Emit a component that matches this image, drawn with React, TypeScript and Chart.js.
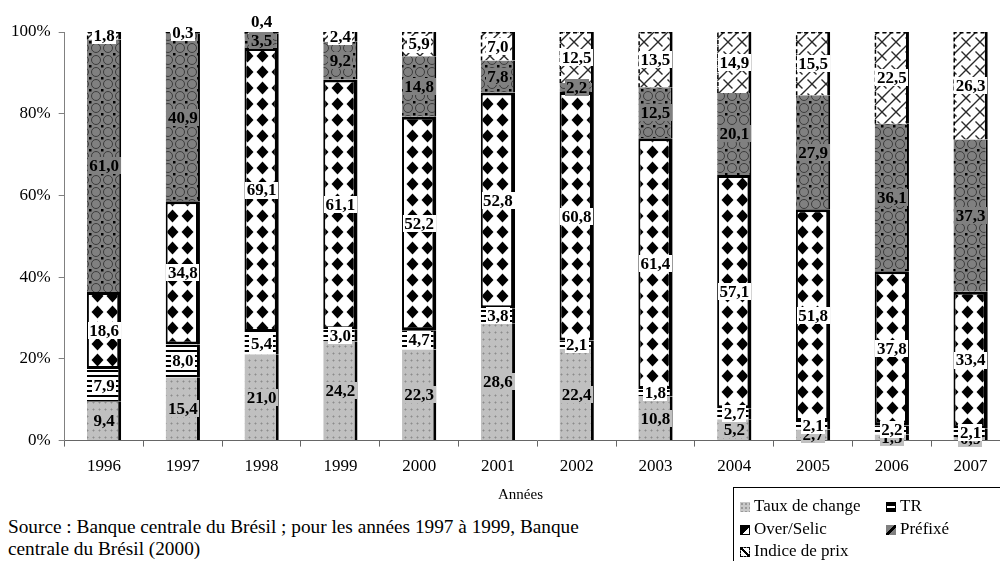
import React, { useEffect, useRef } from 'react';
import { Chart, registerables } from 'chart.js';
Chart.register(...registerables);

const years = ['1996', '1997', '1998', '1999', '2000', '2001', '2002', '2003', '2004', '2005', '2006', '2007'];
const tauxDeChange = [9.4, 15.4, 21.0, 24.2, 22.3, 28.6, 22.4, 10.8, 5.2, 2.7, 1.5, 0.9];
const tr = [7.9, 8.0, 5.4, 3.0, 4.7, 3.8, 2.1, 1.8, 2.7, 2.1, 2.2, 2.1];
const overSelic = [18.6, 34.8, 69.1, 61.1, 52.2, 52.8, 60.8, 61.4, 57.1, 51.8, 37.8, 33.4];
const prefixe = [61.0, 40.9, 3.5, 9.2, 14.8, 7.8, 2.2, 12.5, 20.1, 27.9, 36.1, 37.3];
const indicePrix = [1.8, 0.3, 0.4, 2.4, 5.9, 7.0, 12.5, 13.5, 14.9, 15.5, 22.5, 26.3];
const seriesNames = ['Taux de change', 'TR', 'Over/Selic', 'Préfixé', 'Indice de prix'];
const yTickValues = [0, 20, 40, 60, 80, 100];

const FONT = '"Liberation Serif", "Times New Roman", Times, serif';

const rawSeries = [tauxDeChange, tr, overSelic, prefixe, indicePrix];
const totals = years.map((_, i) => rawSeries.reduce((s, arr) => s + arr[i], 0));
const normalized = rawSeries.map((arr) => arr.map((v, i) => (v / totals[i]) * 100));
const labelBg = ['#c0c0c0', '#ffffff', '#ffffff', '#808080', '#ffffff'];

function makePatterns(ctx: CanvasRenderingContext2D) {
  const mk = (w: number, h: number, draw: (g: CanvasRenderingContext2D) => void) => {
    const c = document.createElement('canvas');
    c.width = w;
    c.height = h;
    const g = c.getContext('2d')!;
    draw(g);
    return ctx.createPattern(c, 'repeat')!;
  };
  const pTaux = mk(6, 7, (g) => {
    g.fillStyle = '#c0c0c0';
    g.fillRect(0, 0, 6, 7);
    g.fillStyle = '#a6a6a6';
    g.fillRect(2, 3, 3, 1);
    g.fillRect(3, 2, 1, 3);
    g.fillStyle = '#8c8c8c';
    g.fillRect(3, 3, 1, 1);
  });
  const pTR = mk(4, 5, (g) => {
    g.fillStyle = '#ffffff';
    g.fillRect(0, 0, 4, 5);
    g.fillStyle = '#000000';
    g.fillRect(0, 0, 4, 2);
  });
  const pOver = mk(15, 16, (g) => {
    g.fillStyle = '#ffffff';
    g.fillRect(0, 0, 15, 16);
    g.fillStyle = '#000000';
    g.beginPath();
    g.moveTo(7.5, 1.5);
    g.lineTo(13.5, 8);
    g.lineTo(7.5, 14.5);
    g.lineTo(1.5, 8);
    g.closePath();
    g.fill();
  });
  const pPref = mk(12, 12, (g) => {
    g.fillStyle = '#808080';
    g.fillRect(0, 0, 12, 12);
    g.strokeStyle = '#3c3c3c';
    g.lineWidth = 1;
    for (const [cx, cy] of [[0, 0], [12, 0], [0, 12], [12, 12]]) {
      g.beginPath();
      g.arc(cx, cy, 4.5, 0, Math.PI * 2);
      g.stroke();
    }
    g.fillStyle = '#000000';
    g.fillRect(5, 5, 2.5, 2.5);
  });
  const pInd = mk(14, 14, (g) => {
    g.fillStyle = '#ffffff';
    g.fillRect(0, 0, 14, 14);
    g.strokeStyle = '#2a2a2a';
    g.lineWidth = 1.4;
    g.beginPath();
    g.moveTo(0, 14);
    g.lineTo(14, 0);
    g.moveTo(0, 0);
    g.lineTo(4.5, 4.5);
    g.moveTo(9.5, 9.5);
    g.lineTo(14, 14);
    g.stroke();
  });
  return [pTaux, pTR, pOver, pPref, pInd];
}

const decorPlugin = {
  id: 'decor',
  afterDatasetsDraw(chart: any) {
    const c = chart.ctx as CanvasRenderingContext2D;
    c.save();
    // dashed outline for price-index segments
    const meta = chart.getDatasetMeta(4);
    c.strokeStyle = '#000';
    c.lineWidth = 1.5;
    c.setLineDash([4, 3]);
    meta.data.forEach((el: any) => {
      const w = el.width;
      const left = el.x - w / 2;
      c.beginPath();
      c.moveTo(left + 0.75, el.base);
      c.lineTo(left + 0.75, el.y + 0.75);
      c.lineTo(left + w - 2, el.y + 0.75);
      c.stroke();
    });
    c.setLineDash([]);

    // value labels
    c.font = `bold 17px ${FONT}`;
    c.textAlign = 'center';
    c.textBaseline = 'middle';
    const boxes: Record<number, { top: number; bottom: number }[]> = {};
    chart.data.datasets.forEach((_: any, di: number) => {
      const m = chart.getDatasetMeta(di);
      m.data.forEach((el: any, i: number) => {
        const v = rawSeries[di][i];
        const txt = v.toFixed(1).replace('.', ',');
        const w = c.measureText(txt).width + 3;
        const h = 17;
        let y = (el.y + el.base) / 2;
        const list = boxes[i] || (boxes[i] = []);
        const prev = list[list.length - 1];
        if (di === rawSeries.length - 1 && prev && y + h / 2 > prev.top) {
          y = el.y - h / 2 - 2;
        }
        c.fillStyle = labelBg[di];
        c.fillRect(Math.round(el.x - w / 2), Math.round(y - h / 2), Math.round(w), h);
        c.fillStyle = '#000';
        c.fillText(txt, el.x, y + 1);
        list.push({ top: y - h / 2, bottom: y + h / 2 });
      });
    });
    c.restore();
  },
};

export default function App() {
  const ref = useRef<HTMLCanvasElement>(null);
  useEffect(() => {
    const canvas = ref.current!;
    const ctx = canvas.getContext('2d')!;
    const patterns = makePatterns(ctx);
    const borders = [
      { top: 0, right: 3, bottom: 0, left: 0 },
      { top: 0, right: 3, bottom: 0, left: 0 },
      { top: 3, right: 4, bottom: 3, left: 2 },
      { top: 0, right: 2, bottom: 0, left: 0 },
      { top: 0, right: 3, bottom: 0, left: 0 },
    ];
    const chart = new Chart(canvas, {
      type: 'bar',
      data: {
        labels: years,
        datasets: seriesNames.map((name, di) => ({
          label: name,
          data: normalized[di],
          backgroundColor: patterns[di],
          borderColor: '#000',
          borderWidth: borders[di],
          borderSkipped: false,
          barPercentage: 0.435,
          categoryPercentage: 1,
        })),
      },
      options: {
        responsive: false,
        animation: false,
        layout: { padding: { top: 32, left: 3, right: 10, bottom: 13 } },
        plugins: { legend: { display: false }, tooltip: { enabled: false }, title: { display: false } },
        scales: {
          x: {
            stacked: true,
            grid: { drawOnChartArea: false, drawTicks: true, tickLength: 6, color: '#666', offset: true },
            border: { color: '#666', width: 1 },
            ticks: { color: '#000', font: { family: FONT, size: 17 }, padding: 10 },
          },
          y: {
            stacked: true,
            min: 0,
            max: 100,
            afterBuildTicks: (scale: any) => {
              scale.ticks = yTickValues.map((v) => ({ value: v }));
            },
            grid: { drawOnChartArea: false, drawTicks: true, tickLength: 6, color: '#808080' },
            border: { color: '#808080', width: 1 },
            ticks: {
              color: '#000',
              font: { family: FONT, size: 17 },
              padding: 8,
              callback: (v: any) => `${v}%`,
            },
          },
        },
      },
      plugins: [decorPlugin],
    });
    return () => chart.destroy();
  }, []);

  const icon = (style: React.CSSProperties) => (
    <span
      style={{
        display: 'inline-block',
        width: 10,
        height: 10,
        boxSizing: 'border-box',
        marginRight: 4,
        verticalAlign: -1,
        ...style,
      }}
    />
  );

  const legendItems: { name: string; x: number; y: number; style: React.CSSProperties }[] = [
    {
      name: seriesNames[0],
      x: 6,
      y: 8,
      style: {
        background: '#c8c8c8',
        backgroundImage: 'radial-gradient(#9a9a9a 0.8px, transparent 1px)',
        backgroundSize: '4px 4px',
      },
    },
    {
      name: seriesNames[1],
      x: 152,
      y: 8,
      style: { border: '1px solid #000', background: 'linear-gradient(#000 0 35%, #fff 35% 65%, #000 65%)' },
    },
    {
      name: seriesNames[2],
      x: 6,
      y: 31,
      style: { border: '1px solid #000', background: 'linear-gradient(135deg, #000 58%, #fff 58%)' },
    },
    {
      name: seriesNames[3],
      x: 152,
      y: 31,
      style: { background: 'linear-gradient(135deg, #808080 40%, #000 40% 60%, #808080 60%)' },
    },
    {
      name: seriesNames[4],
      x: 6,
      y: 53,
      style: {
        border: '1px dashed #000',
        background: 'linear-gradient(45deg, transparent 42%, #000 42% 58%, transparent 58%)',
      },
    },
  ];

  return (
    <div
      style={{
        position: 'fixed',
        left: 0,
        top: 0,
        width: 1000,
        height: 561,
        overflow: 'hidden',
        background: '#fff',
        fontFamily: FONT,
        color: '#000',
      }}
    >
      <canvas ref={ref} width={1020} height={500} style={{ position: 'absolute', left: 0, top: 0 }} />
      <div style={{ position: 'absolute', left: 498, top: 484, fontSize: 15, lineHeight: '20px' }}>Années</div>
      <div style={{ position: 'absolute', left: 8, top: 516, fontSize: 19.3, lineHeight: '22px', whiteSpace: 'nowrap' }}>
        Source : Banque centrale du Brésil ; pour les années 1997 à 1999, Banque
        <br />
        centrale du Brésil (2000)
      </div>
      <div
        style={{
          position: 'absolute',
          left: 733,
          top: 487,
          width: 300,
          height: 90,
          border: '1px solid #000',
          boxSizing: 'border-box',
        }}
      >
        {legendItems.map((it) => (
          <div
            key={it.name}
            style={{ position: 'absolute', left: it.x, top: it.y, fontSize: 17, lineHeight: '20px', whiteSpace: 'nowrap' }}
          >
            {icon(it.style)}
            {it.name}
          </div>
        ))}
      </div>
    </div>
  );
}
